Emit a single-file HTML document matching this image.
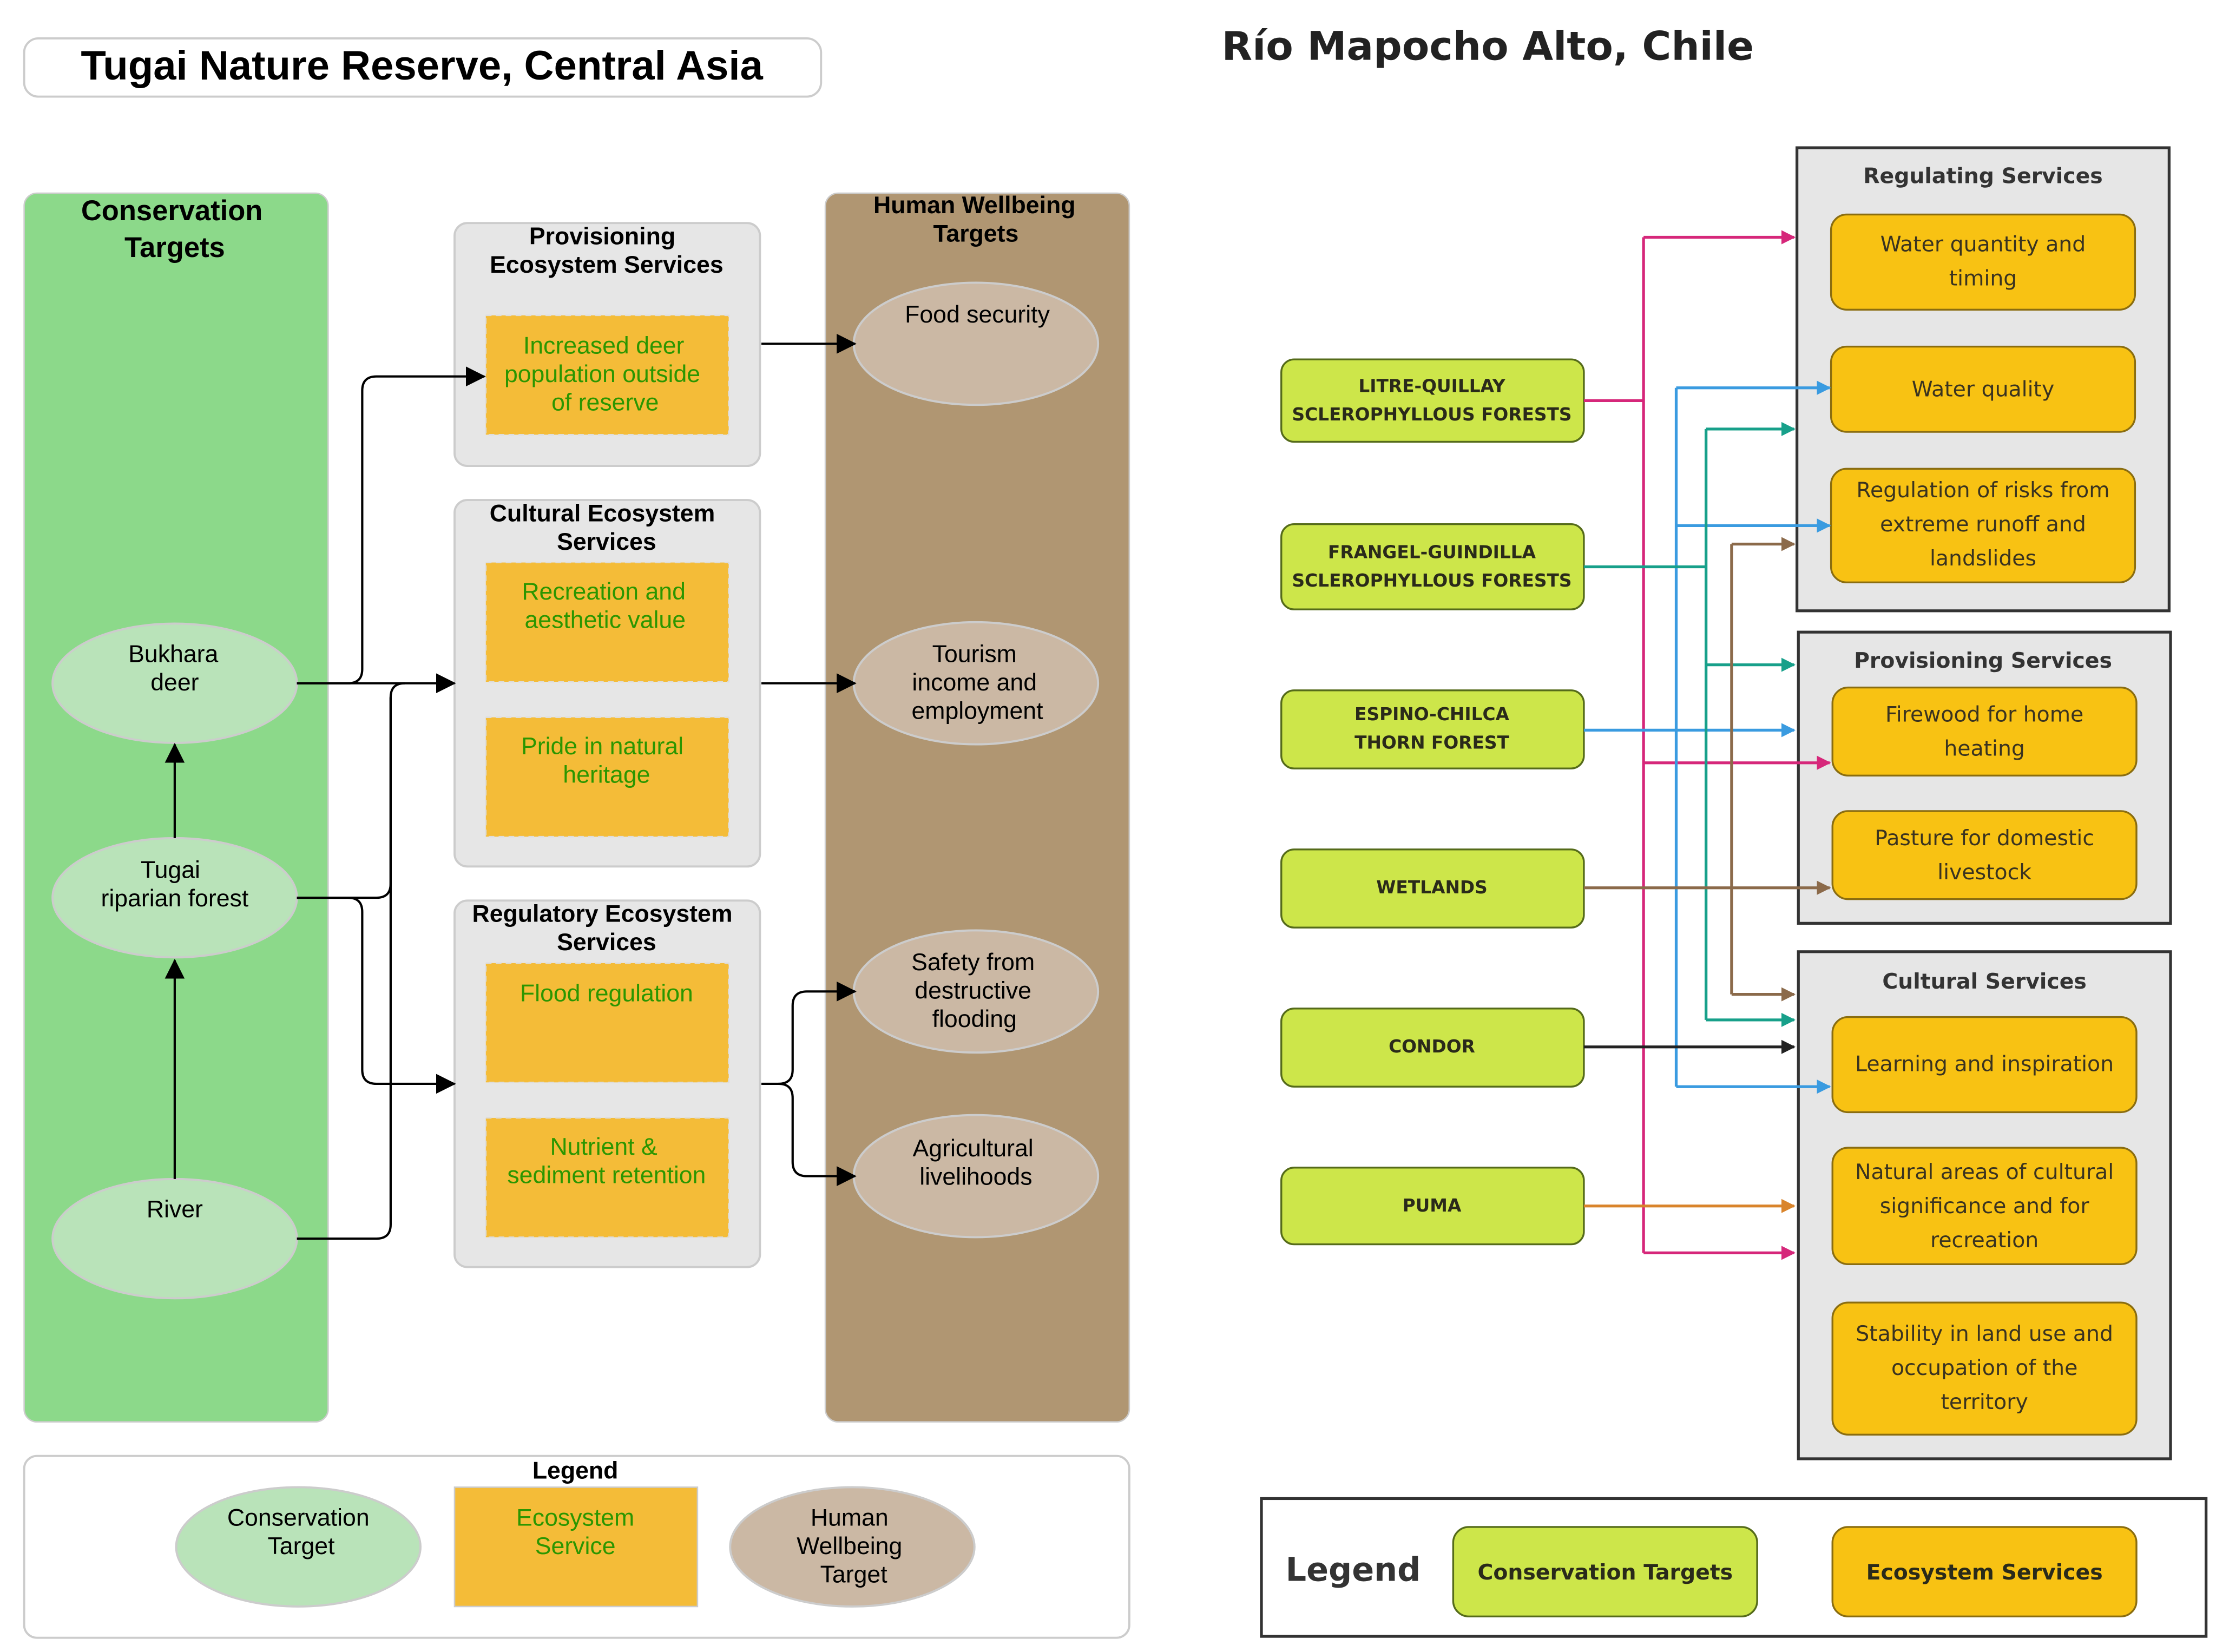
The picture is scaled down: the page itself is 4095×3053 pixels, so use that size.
<!DOCTYPE html>
<html><head><meta charset="utf-8"><style>html,body{margin:0;padding:0;background:#fff}svg{display:block}</style></head>
<body>
<svg width="4095" height="3053" viewBox="0 0 1560 1163" xmlns="http://www.w3.org/2000/svg">
<defs>
<marker id="ak" markerWidth="14" markerHeight="14" refX="13" refY="7" orient="auto" markerUnits="userSpaceOnUse"><path d="M0,0 L14,7 L0,14z" fill="#000"/></marker>
<marker id="am" markerWidth="10" markerHeight="10" refX="9" refY="5" orient="auto" markerUnits="userSpaceOnUse"><path d="M0,0 L10,5 L0,10z" fill="#d6277a"/></marker>
<marker id="ab" markerWidth="10" markerHeight="10" refX="9" refY="5" orient="auto" markerUnits="userSpaceOnUse"><path d="M0,0 L10,5 L0,10z" fill="#3a9be0"/></marker>
<marker id="at" markerWidth="10" markerHeight="10" refX="9" refY="5" orient="auto" markerUnits="userSpaceOnUse"><path d="M0,0 L10,5 L0,10z" fill="#17a08a"/></marker>
<marker id="ar" markerWidth="10" markerHeight="10" refX="9" refY="5" orient="auto" markerUnits="userSpaceOnUse"><path d="M0,0 L10,5 L0,10z" fill="#8b6a4a"/></marker>
<marker id="ao" markerWidth="10" markerHeight="10" refX="9" refY="5" orient="auto" markerUnits="userSpaceOnUse"><path d="M0,0 L10,5 L0,10z" fill="#d9842b"/></marker>
<marker id="ad" markerWidth="10" markerHeight="10" refX="9" refY="5" orient="auto" markerUnits="userSpaceOnUse"><path d="M0,0 L10,5 L0,10z" fill="#222"/></marker>
</defs>
<g font-family="'Liberation Sans Narrow','Liberation Sans',sans-serif" text-anchor="middle">
<rect x="17" y="27" width="561" height="41" rx="10" fill="#fff" stroke="#ccc" stroke-width="1.5"/>
<text x="297" y="56" font-size="29" font-weight="bold" font-family="'Liberation Sans',sans-serif">Tugai Nature Reserve, Central Asia</text>

<rect x="17" y="136" width="214" height="865" rx="9" fill="#8cd98a" stroke="#ccc"/>
<text x="121" y="155" font-size="20" font-weight="bold">Conservation</text>
<text x="123" y="181" font-size="20" font-weight="bold">Targets</text>
<rect x="581" y="136" width="214" height="865" rx="9" fill="#b09672" stroke="#ccc"/>
<text x="686" y="150" font-size="17" font-weight="bold">Human Wellbeing</text>
<text x="687" y="170" font-size="17" font-weight="bold">Targets</text>

<g fill="#e6e6e6" stroke="#ccc" stroke-width="1.5">
<rect x="320" y="157" width="215" height="171" rx="9"/>
<rect x="320" y="352" width="215" height="258" rx="9"/>
<rect x="320" y="634" width="215" height="258" rx="9"/>
</g>
<g font-size="17" font-weight="bold">
<text x="424" y="172">Provisioning</text><text x="427" y="192">Ecosystem Services</text>
<text x="424" y="367">Cultural Ecosystem</text><text x="427" y="387">Services</text>
<text x="424" y="649">Regulatory Ecosystem</text><text x="427" y="669">Services</text>
</g>
<g fill="#f4bc38" stroke="#ddd" stroke-dasharray="4,3">
<rect x="342" y="222" width="171" height="84"/>
<rect x="342" y="396" width="171" height="84"/>
<rect x="342" y="505" width="171" height="84"/>
<rect x="342" y="678" width="171" height="84"/>
<rect x="342" y="787" width="171" height="84"/>
</g>
<g font-size="17" fill="#2b9600">
<text x="425" y="249">Increased deer</text><text x="424" y="269">population outside</text><text x="426" y="289">of reserve</text>
<text x="425" y="422">Recreation and</text><text x="426" y="442">aesthetic value</text>
<text x="424" y="531">Pride in natural</text><text x="427" y="551">heritage</text>
<text x="427" y="705">Flood regulation</text>
<text x="425" y="813">Nutrient &amp;</text><text x="427" y="833">sediment retention</text>
</g>

<g fill="#b9e3b9" stroke="#ccc" stroke-width="1.5">
<ellipse cx="123" cy="481" rx="86" ry="42"/>
<ellipse cx="123" cy="632" rx="86" ry="42"/>
<ellipse cx="123" cy="872" rx="86" ry="42"/>
</g>
<g fill="#cbb8a4" stroke="#ccc" stroke-width="1.5">
<ellipse cx="687" cy="242" rx="86" ry="43"/>
<ellipse cx="687" cy="481" rx="86" ry="43"/>
<ellipse cx="687" cy="698" rx="86" ry="43"/>
<ellipse cx="687" cy="828" rx="86" ry="43"/>
</g>
<g font-size="17">
<text x="122" y="466">Bukhara</text><text x="123" y="486">deer</text>
<text x="120" y="618">Tugai</text><text x="123" y="638">riparian forest</text>
<text x="123" y="857">River</text>
<text x="688" y="227">Food security</text>
<text x="686" y="466">Tourism</text><text x="686" y="486">income and</text><text x="688" y="506">employment</text>
<text x="685" y="683">Safety from</text><text x="685" y="703">destructive</text><text x="686" y="723">flooding</text>
<text x="685" y="814">Agricultural</text><text x="687" y="834">livelihoods</text>
</g>

<g fill="none" stroke="#000" stroke-width="1.6">
<path d="M123,830 V676" marker-end="url(#ak)"/>
<path d="M123,590 V524" marker-end="url(#ak)"/>
<path d="M209,481 H245 Q255,481 255,471 V275 Q255,265 265,265 H341" marker-end="url(#ak)"/>
<path d="M209,481 H320" marker-end="url(#ak)"/>
<path d="M209,632 H265 Q275,632 275,622 V491 Q275,481 285,481"/>
<path d="M209,872 H265 Q275,872 275,862 V491"/>
<path d="M209,632 H245 Q255,632 255,642 V753 Q255,763 265,763 H320" marker-end="url(#ak)"/>
<path d="M536,242 H602" marker-end="url(#ak)"/>
<path d="M536,481 H602" marker-end="url(#ak)"/>
<path d="M536,763 H548 Q558,763 558,753 V708 Q558,698 568,698 H602" marker-end="url(#ak)"/>
<path d="M548,763 Q558,763 558,773 V818 Q558,828 568,828 H602" marker-end="url(#ak)"/>
</g>

<rect x="17" y="1025" width="778" height="128" rx="9" fill="#fff" stroke="#ccc" stroke-width="1.5"/>
<text x="405" y="1041" font-size="17" font-weight="bold">Legend</text>
<ellipse cx="210" cy="1089" rx="86" ry="42" fill="#b9e3b9" stroke="#ccc" stroke-width="1.5"/>
<rect x="320" y="1047" width="171" height="84" fill="#f4bc38" stroke="#ccc"/>
<ellipse cx="600" cy="1089" rx="86" ry="42" fill="#cbb8a4" stroke="#ccc" stroke-width="1.5"/>
<g font-size="17">
<text x="210" y="1074">Conservation</text><text x="212" y="1094">Target</text>
<text x="405" y="1074" fill="#2b9600">Ecosystem</text><text x="405" y="1094" fill="#2b9600">Service</text>
<text x="598" y="1074">Human</text><text x="598" y="1094">Wellbeing</text><text x="601" y="1114">Target</text>
</g>
</g>

<g font-family="'DejaVu Sans','Liberation Sans',sans-serif" text-anchor="middle">
<text x="860" y="42" text-anchor="start" font-size="28" font-weight="bold" fill="#222">Río Mapocho Alto, Chile</text>
<g fill="#e6e6e6" stroke="#333" stroke-width="2">
<rect x="1265" y="104" width="262" height="326"/>
<rect x="1266" y="445" width="262" height="205"/>
<rect x="1266" y="670" width="262" height="357"/>
</g>
<g font-size="15" font-weight="bold" fill="#333">
<text x="1396" y="129">Regulating Services</text>
<text x="1396" y="470">Provisioning Services</text>
<text x="1397" y="696">Cultural Services</text>
</g>
<g fill="#f8c213" stroke="#8a6d10" stroke-width="1.3">
<rect x="1289" y="151" width="214" height="67" rx="11"/>
<rect x="1289" y="244" width="214" height="60" rx="11"/>
<rect x="1289" y="330" width="214" height="80" rx="11"/>
<rect x="1290" y="484" width="214" height="62" rx="11"/>
<rect x="1290" y="571" width="214" height="62" rx="11"/>
<rect x="1290" y="716" width="214" height="67" rx="11"/>
<rect x="1290" y="808" width="214" height="82" rx="11"/>
<rect x="1290" y="917" width="214" height="93" rx="11"/>
</g>
<g font-size="15" fill="#3a3320">
<text x="1396" y="177">Water quantity and</text><text x="1396" y="201">timing</text>
<text x="1396" y="279">Water quality</text>
<text x="1396" y="350">Regulation of risks from</text><text x="1396" y="374">extreme runoff and</text><text x="1396" y="398">landslides</text>
<text x="1397" y="508">Firewood for home</text><text x="1397" y="532">heating</text>
<text x="1397" y="595">Pasture for domestic</text><text x="1397" y="619">livestock</text>
<text x="1397" y="754">Learning and inspiration</text>
<text x="1397" y="830">Natural areas of cultural</text><text x="1397" y="854">significance and for</text><text x="1397" y="878">recreation</text>
<text x="1397" y="944">Stability in land use and</text><text x="1397" y="968">occupation of the</text><text x="1397" y="992">territory</text>
</g>
<g fill="#cde64a" stroke="#556b1a" stroke-width="1.3">
<rect x="902" y="253" width="213" height="58" rx="9"/>
<rect x="902" y="369" width="213" height="60" rx="9"/>
<rect x="902" y="486" width="213" height="55" rx="9"/>
<rect x="902" y="598" width="213" height="55" rx="9"/>
<rect x="902" y="710" width="213" height="55" rx="9"/>
<rect x="902" y="822" width="213" height="54" rx="9"/>
</g>
<g font-size="12.5" font-weight="bold" fill="#2a2a1a">
<text x="1008" y="276">LITRE-QUILLAY</text><text x="1008" y="296">SCLEROPHYLLOUS FORESTS</text>
<text x="1008" y="393">FRANGEL-GUINDILLA</text><text x="1008" y="413">SCLEROPHYLLOUS FORESTS</text>
<text x="1008" y="507">ESPINO-CHILCA</text><text x="1008" y="527">THORN FOREST</text>
<text x="1008" y="629">WETLANDS</text>
<text x="1008" y="741">CONDOR</text>
<text x="1008" y="853">PUMA</text>
</g>
<g fill="none" stroke-width="2">
<g stroke="#d6277a">
<path d="M1115,282 H1157"/><path d="M1157,167 V882"/>
<path d="M1157,167 H1263" marker-end="url(#am)"/>
<path d="M1157,537 H1288" marker-end="url(#am)"/>
<path d="M1157,882 H1263" marker-end="url(#am)"/>
</g>
<g stroke="#3a9be0">
<path d="M1115,514 H1263" marker-end="url(#ab)"/>
<path d="M1180,273 V765"/>
<path d="M1180,273 H1288" marker-end="url(#ab)"/>
<path d="M1180,370 H1288" marker-end="url(#ab)"/>
<path d="M1180,765 H1288" marker-end="url(#ab)"/>
</g>
<g stroke="#17a08a">
<path d="M1115,399 H1201"/><path d="M1201,302 V718"/>
<path d="M1201,302 H1263" marker-end="url(#at)"/>
<path d="M1201,468 H1263" marker-end="url(#at)"/>
<path d="M1201,718 H1263" marker-end="url(#at)"/>
</g>
<g stroke="#8b6a4a">
<path d="M1115,625 H1288" marker-end="url(#ar)"/>
<path d="M1219,383 V700"/>
<path d="M1219,383 H1263" marker-end="url(#ar)"/>
<path d="M1219,700 H1263" marker-end="url(#ar)"/>
</g>
<path d="M1115,737 H1263" stroke="#222" marker-end="url(#ad)"/>
<path d="M1115,849 H1263" stroke="#d9842b" marker-end="url(#ao)"/>
</g>
<rect x="888" y="1055" width="665" height="97" fill="#fff" stroke="#333" stroke-width="2"/>
<text x="905" y="1113" text-anchor="start" font-size="23" font-weight="bold" fill="#333">Legend</text>
<rect x="1023" y="1075" width="214" height="63" rx="11" fill="#cde64a" stroke="#556b1a" stroke-width="1.3"/>
<rect x="1290" y="1075" width="214" height="63" rx="11" fill="#f8c213" stroke="#8a6d10" stroke-width="1.3"/>
<text x="1130" y="1112" font-size="15" font-weight="bold" fill="#2a2a1a">Conservation Targets</text>
<text x="1397" y="1112" font-size="15" font-weight="bold" fill="#2a2a1a">Ecosystem Services</text>
</g>
</svg>
</body></html>
